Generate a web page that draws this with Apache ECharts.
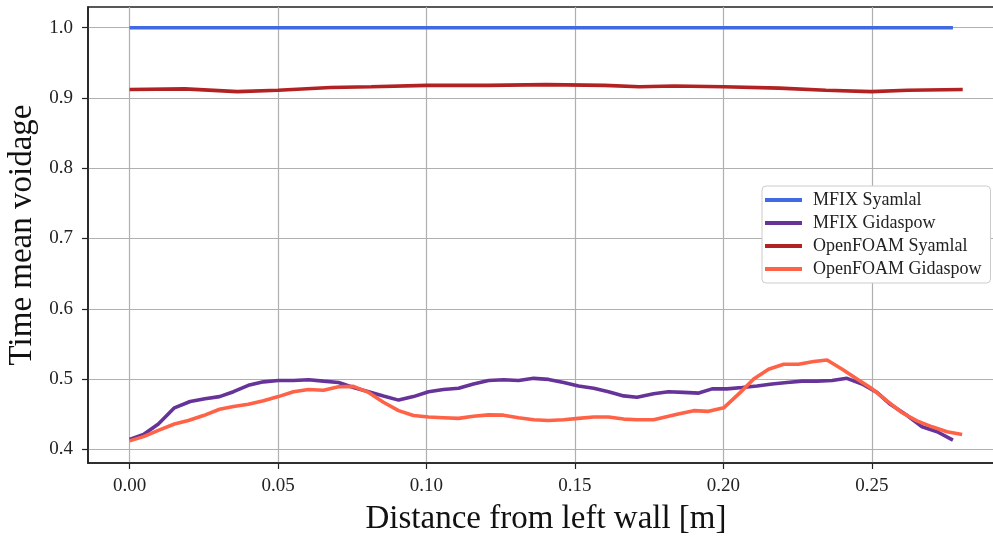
<!DOCTYPE html>
<html>
<head>
<meta charset="utf-8">
<script src="https://cdn.jsdelivr.net/npm/echarts@6/dist/echarts.min.js"></script>
<style>
  html, body { margin: 0; padding: 0; background: #fff; }
  #chart { width: 993px; height: 538px; }
</style>
</head>
<body>
<div id="chart"></div>
<script>
// distance from left wall [m] and time mean voidage
const mfixSyamlalX = [0, 0.2773]
const mfixSyamlalY = [1.0, 1.0]

const mfixGidaspowX = [0.0000, 0.0047, 0.0097, 0.0151, 0.0204, 0.0254, 0.0303, 0.0350, 0.0400, 0.0451,
  0.0501, 0.0552, 0.0603, 0.0653, 0.0704, 0.0754, 0.0805, 0.0855, 0.0906, 0.0956,
  0.1007, 0.1057, 0.1108, 0.1158, 0.1209, 0.1260, 0.1310, 0.1361, 0.1411, 0.1462,
  0.1512, 0.1563, 0.1613, 0.1664, 0.1709, 0.1765, 0.1815, 0.1866, 0.1917, 0.1962,
  0.2012, 0.2063, 0.2113, 0.2164, 0.2214, 0.2265, 0.2315, 0.2366, 0.2416, 0.2467,
  0.2517, 0.2562, 0.2619, 0.2669, 0.2720, 0.2773]
const mfixGidaspowY = [0.414, 0.421, 0.436, 0.459, 0.468, 0.472, 0.475, 0.482, 0.491, 0.496,
  0.498, 0.498, 0.499, 0.497, 0.495, 0.488, 0.482, 0.476, 0.470, 0.475,
  0.482, 0.485, 0.487, 0.493, 0.498, 0.499, 0.498, 0.501, 0.4995, 0.495,
  0.490, 0.487, 0.482, 0.476, 0.474, 0.479, 0.482, 0.481, 0.480, 0.486,
  0.486, 0.488, 0.490, 0.493, 0.495, 0.497, 0.497, 0.498, 0.501, 0.493,
  0.481, 0.464, 0.448, 0.432, 0.425, 0.413]

const ofSyamlalX = [0, 0.0186, 0.0363, 0.0500, 0.0677, 0.0814, 0.1001, 0.1207, 0.1403, 0.1600,
  0.1717, 0.1835, 0.2000, 0.2188, 0.2345, 0.2498, 0.2620, 0.2806]
const ofSyamlalY = [0.912, 0.913, 0.909, 0.911, 0.915, 0.916, 0.918, 0.918, 0.919, 0.918,
  0.916, 0.917, 0.916, 0.914, 0.911, 0.909, 0.911, 0.912]

const ofGidaspowX = [0.0000, 0.0047, 0.0097, 0.0151, 0.0198, 0.0249, 0.0303, 0.0350, 0.0400, 0.0451,
  0.0501, 0.0552, 0.0602, 0.0653, 0.0704, 0.0754, 0.0805, 0.0855, 0.0906, 0.0956,
  0.1007, 0.1057, 0.1108, 0.1158, 0.1209, 0.1259, 0.1310, 0.1361, 0.1411, 0.1462,
  0.1512, 0.1563, 0.1613, 0.1664, 0.1709, 0.1765, 0.1844, 0.1900, 0.1950, 0.2001,
  0.2057, 0.2102, 0.2152, 0.2203, 0.2253, 0.2304, 0.2349, 0.2400, 0.2450, 0.2501,
  0.2551, 0.2602, 0.2652, 0.2703, 0.2753, 0.2804]
const ofGidaspowY = [0.412, 0.418, 0.427, 0.436, 0.441, 0.448, 0.457, 0.461, 0.464, 0.469,
  0.475, 0.482, 0.485, 0.484, 0.489, 0.4895, 0.481, 0.467, 0.455, 0.448,
  0.446, 0.445, 0.444, 0.447, 0.449, 0.4486, 0.445, 0.442, 0.441, 0.442,
  0.444, 0.446, 0.446, 0.443, 0.442, 0.442, 0.450, 0.455, 0.454, 0.459,
  0.481, 0.500, 0.514, 0.521, 0.521, 0.525, 0.527, 0.514, 0.500, 0.486,
  0.469, 0.452, 0.4405, 0.432, 0.425, 0.421]

const seriesNames = ['MFIX Syamlal', 'MFIX Gidaspow', 'OpenFOAM Syamlal', 'OpenFOAM Gidaspow']
const xTicks = [0, 0.05, 0.10, 0.15, 0.20, 0.25]
const yTicks = [0.4, 0.5, 0.6, 0.7, 0.8, 0.9, 1.0]

const FONT = 'Liberation Serif'

function zip(xs, ys) {
  return xs.map((x, i) => [x, ys[i]])
}

function lineSeries(name, xs, ys, color) {
  return {
    name: name,
    type: 'line',
    data: zip(xs, ys),
    symbol: 'none',
    lineStyle: { color: color, width: 3.6 },
    itemStyle: { color: color }
  }
}

const chart = echarts.init(document.getElementById('chart'), null, { renderer: 'canvas' })

const option = {
  animation: false,
  backgroundColor: '#fff',
  grid: {
    left: 88,
    top: 7,
    width: 916,
    height: 456,
    outerBoundsMode: 'none',
    containLabel: false,
    show: true,
    borderColor: '#222',
    borderWidth: 1.6,
    backgroundColor: 'transparent'
  },
  legend: {
    orient: 'vertical',
    left: 762,
    top: 186,
    icon: 'rect',
    itemWidth: 37,
    itemHeight: 4,
    itemGap: 5,
    padding: [5, 9, 5, 3],
    backgroundColor: '#fff',
    borderColor: '#ccc',
    borderWidth: 1,
    borderRadius: 4,
    textStyle: { fontFamily: FONT, fontSize: 18, color: '#222', lineHeight: 18, padding: [0, 0, 0, 6] },
    data: seriesNames
  },
  xAxis: {
    type: 'value',
    min: -0.014,
    max: 0.2945,
    name: 'Distance from left wall [m]',
    nameLocation: 'middle',
    nameGap: 40,
    nameTextStyle: { fontFamily: FONT, fontSize: 33, color: '#111' },
    axisLine: { show: true, onZero: false, lineStyle: { color: '#222', width: 1.6 } },
    axisTick: { show: true, length: 6, lineStyle: { color: '#222', width: 1.2 }, customValues: xTicks },
    axisLabel: {
      fontFamily: FONT, fontSize: 19, color: '#222', margin: 14,
      customValues: xTicks,
      formatter: v => v.toFixed(2)
    },
    splitLine: { show: true, lineStyle: { color: '#b0b0b0', width: 1.2 } }
  },
  yAxis: {
    type: 'value',
    min: 0.3805,
    max: 1.0295,
    name: 'Time mean voidage',
    nameLocation: 'middle',
    nameGap: 46,
    nameTextStyle: { fontFamily: FONT, fontSize: 33, color: '#111' },
    axisLine: { show: true, onZero: false, lineStyle: { color: '#222', width: 1.6 } },
    axisTick: { show: true, length: 6, lineStyle: { color: '#222', width: 1.2 }, customValues: yTicks },
    axisLabel: {
      fontFamily: FONT, fontSize: 19, color: '#222', margin: 15,
      customValues: yTicks,
      formatter: v => v.toFixed(1)
    },
    splitLine: { show: true, lineStyle: { color: '#b0b0b0', width: 1.2 } }
  },
  series: [
    lineSeries(seriesNames[0], mfixSyamlalX, mfixSyamlalY, '#4169E1'),
    lineSeries(seriesNames[1], mfixGidaspowX, mfixGidaspowY, '#663399'),
    lineSeries(seriesNames[2], ofSyamlalX, ofSyamlalY, '#B22222'),
    lineSeries(seriesNames[3], ofGidaspowX, ofGidaspowY, '#FF6347')
  ]
}

chart.setOption(option)
</script>
</body>
</html>
